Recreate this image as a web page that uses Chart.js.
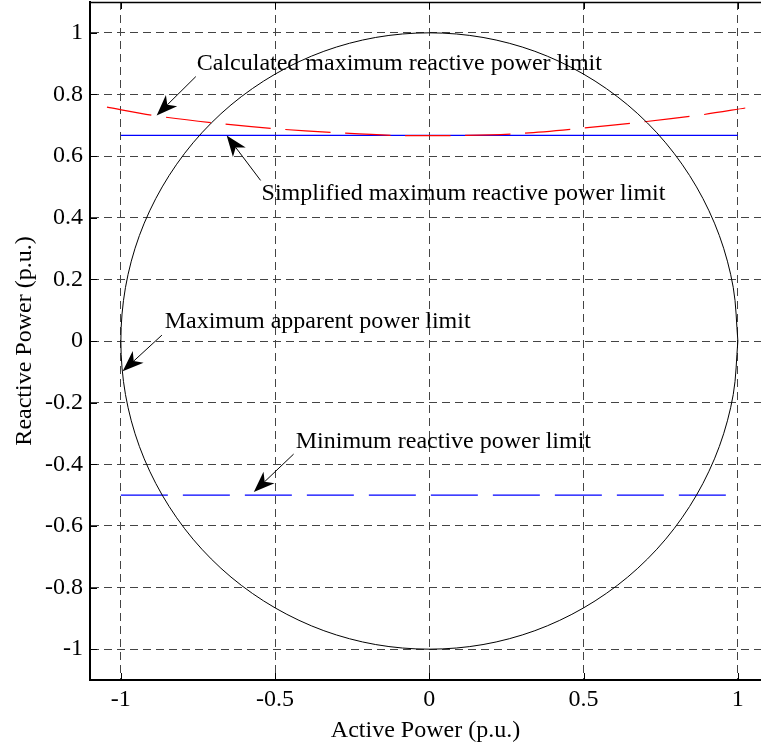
<!DOCTYPE html>
<html>
<head>
<meta charset="utf-8">
<script src="https://cdn.jsdelivr.net/npm/chart.js@4/dist/chart.umd.min.js"></script>
<style>
  html, body { margin: 0; padding: 0; background: #fff; }
  #wrap { width: 761px; height: 746px; }
</style>
</head>
<body>
<div id="wrap"><canvas id="pq"></canvas></div>
<script>
// P-Q capability chart: apparent power circle and reactive power limits.

const xTicks = [-1, -0.5, 0, 0.5, 1];
const yTicks = [-1, -0.8, -0.6, -0.4, -0.2, 0, 0.2, 0.4, 0.6, 0.8, 1];

// Maximum apparent power limit (unit circle), read every 10 degrees.
const circleP = [1, 0.985, 0.94, 0.866, 0.766, 0.643, 0.5, 0.342, 0.174, 0,
  -0.174, -0.342, -0.5, -0.643, -0.766, -0.866, -0.94, -0.985, -1,
  -0.985, -0.94, -0.866, -0.766, -0.643, -0.5, -0.342, -0.174, 0,
  0.174, 0.342, 0.5, 0.643, 0.766, 0.866, 0.94, 0.985, 1];
const circleQ = [0, 0.174, 0.342, 0.5, 0.643, 0.766, 0.866, 0.94, 0.985, 1,
  0.985, 0.94, 0.866, 0.766, 0.643, 0.5, 0.342, 0.174, 0,
  -0.174, -0.342, -0.5, -0.643, -0.766, -0.866, -0.94, -0.985, -1,
  -0.985, -0.94, -0.866, -0.766, -0.643, -0.5, -0.342, -0.174, 0];

// Calculated maximum reactive power limit.
const calcP = [-1.045, -0.896, -0.702, -0.502, -0.302, -0.108, 0.097, 0.291, 0.49, 0.684, 0.883, 1.024];
const calcQ = [0.759, 0.732, 0.708, 0.689, 0.676, 0.667, 0.667, 0.673, 0.69, 0.71, 0.734, 0.756];

// Simplified maximum and minimum reactive power limits.
const simpP = [-1, 1];
const simpQ = [0.667, 0.667];
const minP = [-1, 1];
const minQ = [-0.5, -0.5];

// Annotations: text anchor (left, middle) and arrow from/to, in data units.
const noteText = [
  'Calculated maximum reactive power limit',
  'Simplified maximum reactive power limit',
  'Maximum apparent power limit',
  'Minimum reactive power limit',
];
const noteAt = [[-0.754, 0.9], [-0.544, 0.479], [-0.858, 0.061], [-0.433, -0.328]];
const arrowFrom = [[-0.757, 0.858], [-0.547, 0.521], [-0.867, 0.019], [-0.44, -0.367]];
const arrowTo = [[-0.884, 0.732], [-0.657, 0.667], [-0.994, -0.098], [-0.569, -0.49]];

const serif = "'Liberation Serif', 'Times New Roman', serif";
const pts = (xs, ys) => xs.map((x, i) => ({ x, y: ys[i] }));

// Top border plus short inward tick marks, as in a MATLAB box.
const frame = {
  id: 'frame',
  afterDraw(c) {
    const { ctx, chartArea: a, scales: { x, y } } = c;
    const tl = 7;
    ctx.save();
    ctx.strokeStyle = '#000';
    ctx.lineWidth = 1.5;
    ctx.beginPath();
    ctx.moveTo(a.left, a.top + 0.5);
    ctx.lineTo(a.right, a.top + 0.5);
    ctx.stroke();
    ctx.lineWidth = 1;
    ctx.beginPath();
    xTicks.forEach((v) => {
      const px = Math.round(x.getPixelForValue(v)) + 0.5;
      ctx.moveTo(px, a.bottom);
      ctx.lineTo(px, a.bottom - tl);
      ctx.moveTo(px, a.top);
      ctx.lineTo(px, a.top + tl);
    });
    yTicks.forEach((v) => {
      const py = Math.round(y.getPixelForValue(v)) + 0.5;
      ctx.moveTo(a.left, py);
      ctx.lineTo(a.left + tl, py);
    });
    ctx.stroke();
    ctx.restore();
  },
};

const notes = {
  id: 'notes',
  afterDatasetsDraw(c) {
    const { ctx, scales: { x, y } } = c;
    ctx.save();
    ctx.font = '24px ' + serif;
    ctx.fillStyle = '#000';
    ctx.textBaseline = 'middle';
    ctx.textAlign = 'left';
    noteText.forEach((t, i) => {
      ctx.fillText(t, x.getPixelForValue(noteAt[i][0]), y.getPixelForValue(noteAt[i][1]));
      const x0 = x.getPixelForValue(arrowFrom[i][0]);
      const y0 = y.getPixelForValue(arrowFrom[i][1]);
      const x1 = x.getPixelForValue(arrowTo[i][0]);
      const y1 = y.getPixelForValue(arrowTo[i][1]);
      drawArrow(ctx, x0, y0, x1, y1);
    });
    ctx.restore();
  },
};

function drawArrow(ctx, x0, y0, x1, y1) {
  const ang = Math.atan2(y1 - y0, x1 - x0);
  const len = 21, half = 8, notch = 15;
  const cx = Math.cos(ang), cy = Math.sin(ang);
  ctx.strokeStyle = '#000';
  ctx.lineWidth = 1;
  ctx.beginPath();
  ctx.moveTo(x0, y0);
  ctx.lineTo(x1 - cx * notch, y1 - cy * notch);
  ctx.stroke();
  const bx = x1 - cx * len, by = y1 - cy * len;
  const nx = -cy, ny = cx;
  ctx.beginPath();
  ctx.moveTo(x1, y1);
  ctx.lineTo(bx + nx * half, by + ny * half);
  ctx.lineTo(x1 - cx * notch, y1 - cy * notch);
  ctx.lineTo(bx - nx * half, by - ny * half);
  ctx.closePath();
  ctx.fillStyle = '#000';
  ctx.fill();
}

const fmt = (v) => String(Math.round(v * 10) / 10).replace(/^-0$/, '0');

new Chart(document.getElementById('pq'), {
  type: 'scatter',
  data: {
    datasets: [
      { data: pts(circleP, circleQ), borderColor: '#000', borderWidth: 1, tension: 0.33 },
      { data: pts(calcP, calcQ), borderColor: '#ff0000', borderWidth: 1.2, borderDash: [45, 15], tension: 0.3 },
      { data: pts(simpP, simpQ), borderColor: '#0000ff', borderWidth: 1.3 },
      { data: pts(minP, minQ), borderColor: '#0000ff', borderWidth: 1.3, borderDash: [47, 15] },
    ],
  },
  options: {
    responsive: true,
    maintainAspectRatio: false,
    animation: false,
    showLine: true,
    elements: { point: { radius: 0, hoverRadius: 0 } },
    layout: { padding: { top: 2, right: 0, bottom: 0, left: 0 } },
    plugins: { legend: { display: false }, tooltip: { enabled: false } },
    scales: {
      x: {
        type: 'linear',
        min: -1.1,
        max: 1.075,
        afterBuildTicks: (s) => { s.ticks = xTicks.map((v) => ({ value: v })); },
        afterFit: (s) => { s.height = 66; s.paddingLeft = 0; s.paddingRight = 0; },
        grid: { color: '#444', drawTicks: false, lineWidth: 1 },
        border: { display: true, color: '#000', width: 2, dash: [8, 5] },
        ticks: { color: '#000', padding: 5, maxRotation: 0, font: { family: serif, size: 24 }, callback: fmt },
        title: { display: true, text: 'Active Power (p.u.)', color: '#000', padding: { top: 0, bottom: 1 }, font: { family: serif, size: 24 } },
      },
      y: {
        type: 'linear',
        min: -1.1,
        max: 1.1,
        afterBuildTicks: (s) => { s.ticks = yTicks.map((v) => ({ value: v })); },
        afterFit: (s) => { s.width = 90; s.paddingTop = 0; s.paddingBottom = 0; },
        grid: { color: '#444', drawTicks: false, lineWidth: 1 },
        border: { display: true, color: '#000', width: 2, dash: [8, 5] },
        ticks: { color: '#000', padding: 7, font: { family: serif, size: 24 }, callback: fmt },
        title: { display: true, text: 'Reactive Power (p.u.)', color: '#000', padding: { top: 10, bottom: 0 }, font: { family: serif, size: 24 } },
      },
    },
  },
  plugins: [frame, notes],
});
</script>
</body>
</html>
